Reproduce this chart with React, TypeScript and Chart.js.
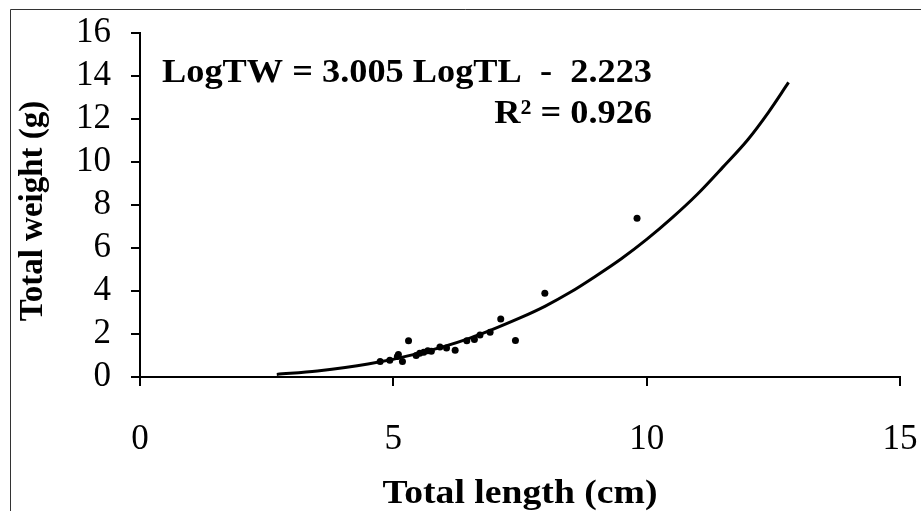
import React, { useEffect, useRef } from "react";
import { Chart, registerables } from "chart.js";

Chart.register(...registerables);

// Observed data (total length cm, total weight g)
const lengthCm = [4.74, 4.93, 5.08, 5.1, 5.18, 5.3, 5.45, 5.52, 5.6, 5.68, 5.75, 5.92, 6.05, 6.22, 6.45, 6.6, 6.71, 6.91, 7.12, 7.41, 7.99, 9.81];
const weightG = [0.72, 0.78, 0.95, 1.05, 0.72, 1.69, 1.0, 1.1, 1.15, 1.22, 1.2, 1.4, 1.35, 1.25, 1.69, 1.75, 1.95, 2.08, 2.7, 1.7, 3.89, 7.38];

// Fitted power curve
const curveLength = [2.7, 3.5, 4.5, 5.5, 6.5, 7.5, 8.0, 8.5, 9.0, 9.5, 10.0, 10.5, 11.0, 11.5, 12.0, 12.4, 12.8];
const curveWeight = [0.12, 0.28, 0.6, 1.1, 1.8, 2.75, 3.3, 3.95, 4.7, 5.5, 6.4, 7.4, 8.5, 9.75, 11.05, 12.3, 13.7];

const xTicks = [0, 5, 10, 15];
const yTicks = [0, 2, 4, 6, 8, 10, 12, 14, 16];

const equationText = "LogTW = 3.005 LogTL  -  2.223";
const r2Text = "R² = 0.926";
const xTitle = "Total length (cm)";
const yTitle = "Total weight (g)";

const SERIF = "'Liberation Serif', 'Times New Roman', serif";

export default function App() {
  const ref = useRef<HTMLCanvasElement | null>(null);

  useEffect(() => {
    document.body.style.margin = "0";
    const canvas = ref.current!;
    const overlay = {
      id: "overlay",
      beforeDraw(chart: any) {
        const ctx = chart.ctx;
        ctx.save();
        ctx.fillStyle = "#ffffff";
        ctx.fillRect(0, 0, chart.width, chart.height);
        ctx.strokeStyle = "#333";
        ctx.lineWidth = 1;
        ctx.beginPath();
        ctx.moveTo(10.5, 511);
        ctx.lineTo(10.5, 9.5);
        ctx.lineTo(921, 9.5);
        ctx.stroke();
        ctx.restore();
      },
      afterDraw(chart: any) {
        const ctx = chart.ctx;
        ctx.save();
        ctx.fillStyle = "#000";
        ctx.textBaseline = "alphabetic";
        ctx.font = `bold 34px ${SERIF}`;
        const w = ctx.measureText(equationText).width;
        const sx = 490 / w;
        // equation
        ctx.save();
        ctx.translate(162, 82);
        ctx.scale(sx, 1);
        ctx.textAlign = "left";
        ctx.fillText(equationText, 0, 0);
        ctx.restore();
        // R2
        ctx.save();
        ctx.translate(652, 123);
        ctx.scale(sx, 1);
        ctx.textAlign = "right";
        ctx.fillText(r2Text, 0, 0);
        ctx.restore();
        // x title
        ctx.font = `bold 34px ${SERIF}`;
        const wx = ctx.measureText(xTitle).width;
        ctx.save();
        ctx.translate(520, 503);
        ctx.scale(275 / wx, 1);
        ctx.textAlign = "center";
        ctx.fillText(xTitle, 0, 0);
        ctx.restore();
        // y title
        ctx.font = `bold 33px ${SERIF}`;
        ctx.save();
        ctx.translate(42, 211);
        ctx.rotate(-Math.PI / 2);
        ctx.textAlign = "center";
        ctx.fillText(yTitle, 0, 0);
        ctx.restore();
        ctx.restore();
      },
    };

    const chart = new Chart(canvas, {
      type: "scatter",
      data: {
        datasets: [
          {
            label: "curve",
            data: curveLength.map((x, i) => ({ x, y: curveWeight[i] })),
            showLine: true,
            borderColor: "#000",
            borderWidth: 3,
            pointRadius: 0,
            cubicInterpolationMode: "monotone",
          } as any,
          {
            label: "observed",
            data: lengthCm.map((x, i) => ({ x, y: weightG[i] })),
            backgroundColor: "#000",
            borderColor: "#000",
            pointRadius: 3.5,
            borderWidth: 0,
          },
        ],
      },
      options: {
        responsive: false,
        animation: false,
        devicePixelRatio: 1,
        layout: { padding: { left: 0, top: 33, right: 21, bottom: 0 } },
        plugins: { legend: { display: false }, tooltip: { enabled: false } },
        scales: {
          x: {
            type: "linear",
            min: 0,
            max: 15,
            afterBuildTicks: (s: any) => {
              s.ticks = xTicks.map((v) => ({ value: v }));
            },
            afterFit: (s: any) => {
              s.height = 134;
              s.paddingLeft = 0;
              s.paddingRight = 0;
            },
            border: { display: true, color: "#000", width: 2 },
            grid: { display: true, drawOnChartArea: false, drawTicks: true, tickLength: 9, color: "#000", lineWidth: 2 },
            ticks: { color: "#000", font: { family: SERIF, size: 35 }, padding: 33, maxRotation: 0, autoSkip: false },
          },
          y: {
            type: "linear",
            min: 0,
            max: 16,
            afterBuildTicks: (s: any) => {
              s.ticks = yTicks.map((v) => ({ value: v }));
            },
            afterFit: (s: any) => {
              s.width = 140;
              s.paddingTop = 0;
              s.paddingBottom = 0;
            },
            border: { display: true, color: "#000", width: 2 },
            grid: { display: true, drawOnChartArea: false, drawTicks: true, tickLength: 9, color: "#000", lineWidth: 2 },
            ticks: { color: "#000", font: { family: SERIF, size: 35 }, padding: 20, autoSkip: false },
          },
        },
      },
      plugins: [overlay],
    });
    return () => chart.destroy();
  }, []);

  return (
    <canvas
      ref={ref}
      width={921}
      height={511}
      style={{ position: "absolute", left: 0, top: 0, width: 921, height: 511, display: "block" }}
    />
  );
}
